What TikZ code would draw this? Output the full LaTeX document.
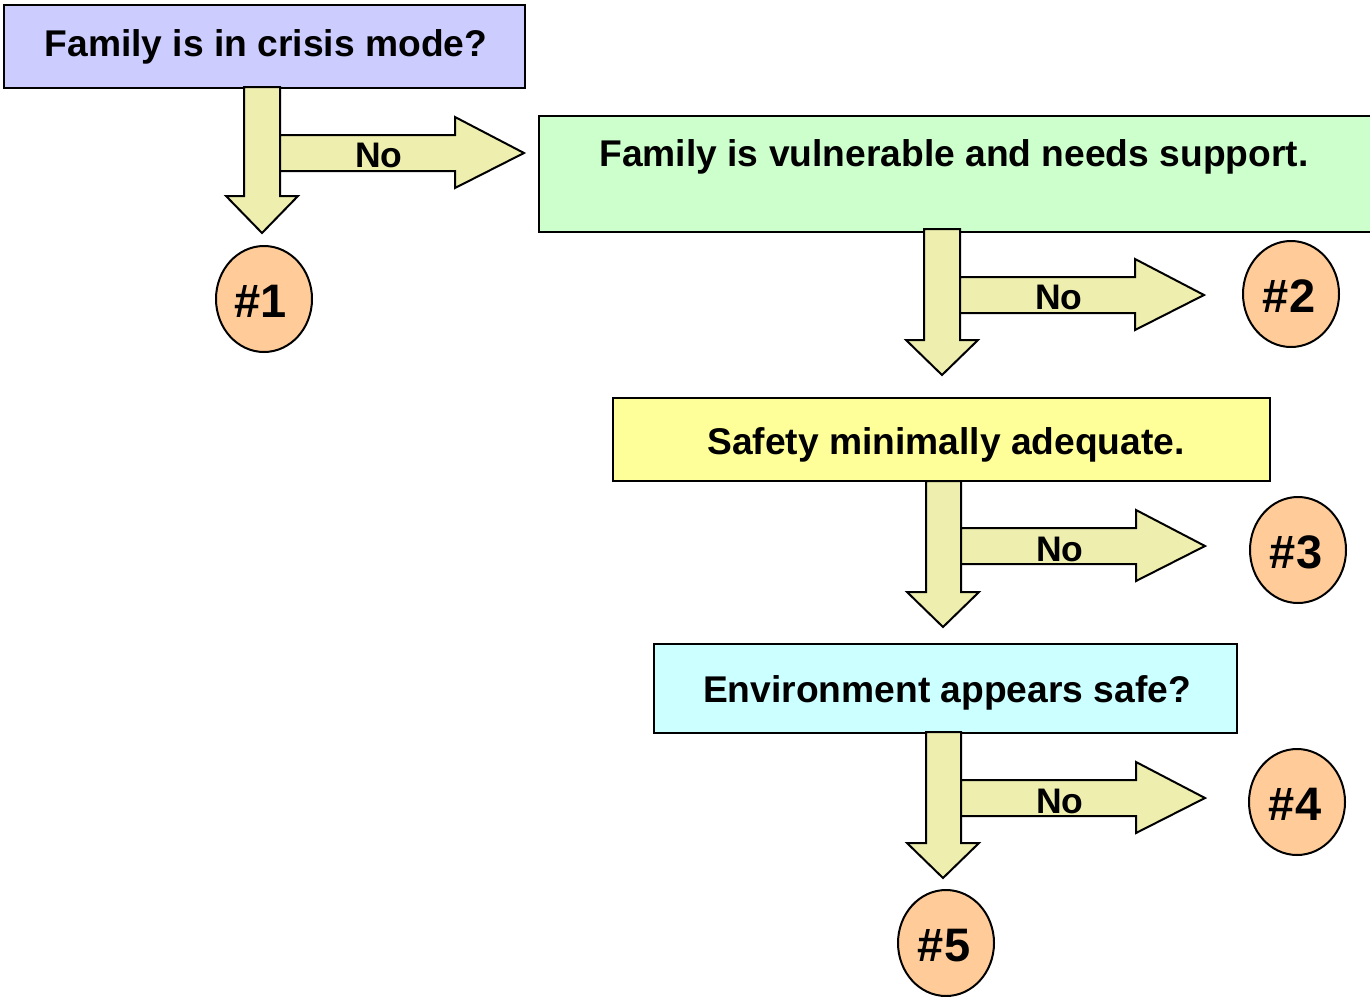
\documentclass[tikz,border=0pt]{standalone}
\usepackage{fontspec}
\setmainfont{Liberation Sans}
\begin{document}
\begin{tikzpicture}[x=1pt,y=-1pt,
  box/.style={draw=black,line width=2pt,inner sep=0pt,anchor=north west},
  boxtext/.style={anchor=base,inner sep=0pt,font=\fontsize{37.2}{40}\selectfont\bfseries},
  notext/.style={anchor=base,inner sep=0pt,font=\fontsize{35.5}{40}\selectfont\bfseries},
  numtext/.style={anchor=base,inner sep=0pt,font=\fontsize{47}{54}\selectfont\bfseries},
  numcirc/.style={line width=2pt,draw=black,fill=peach},
  blockarrow/.style={draw=black,line width=2pt,fill=arrowfill,line join=miter}]
\definecolor{lav}{HTML}{CCCCFF}
\definecolor{mint}{HTML}{CCFFCC}
\definecolor{lemon}{HTML}{FFFF99}
\definecolor{aqua}{HTML}{CCFFFF}
\definecolor{peach}{HTML}{FFCC99}
\definecolor{arrowfill}{HTML}{EEEEAF}
\useasboundingbox (0,0) rectangle (1370,996);
% boxes
\node[box,fill=lav,minimum width=521pt,minimum height=83pt] (b1) at (3,4) {};
\node[boxtext] (t1) at (266,56.5) {Family is in crisis mode?};
\node[box,fill=mint,minimum width=832pt,minimum height=116pt] (b2) at (538,115) {};
\node[boxtext] (t2) at (954,166) {Family is vulnerable and needs support.};
\node[box,fill=lemon,minimum width=657pt,minimum height=83pt] (b3) at (612,397) {};
\node[boxtext] (t3) at (946,454) {Safety minimally adequate.};
\node[box,fill=aqua,minimum width=583pt,minimum height=89pt] (b4) at (653,643) {};
\node[boxtext] (t4) at (947,702) {Environment appears safe?};
% arrows 1
\draw[blockarrow] (244,87) -- (244,196) -- (226,196) -- (262,233) -- (298,196) -- (280,196) -- (280,87) -- cycle;
\draw[blockarrow] (280,135) -- (455,135) -- (455,117) -- (524,153) -- (455,188) -- (455,171) -- (280,171) -- cycle;
\node[notext] (n1) at (379,167) {No};
% arrows 2
\draw[blockarrow] (924,229) -- (924,340) -- (906,340) -- (942,375) -- (978,340) -- (960,340) -- (960,229) -- cycle;
\draw[blockarrow] (960,277) -- (1135,277) -- (1135,259) -- (1204,295) -- (1135,330) -- (1135,313) -- (960,313) -- cycle;
\node[notext] (n2) at (1059,309) {No};
% arrows 3
\draw[blockarrow] (926,481) -- (926,592) -- (907,592) -- (943,627) -- (979,592) -- (961,592) -- (961,481) -- cycle;
\draw[blockarrow] (961,528) -- (1136,528) -- (1136,510) -- (1205,546) -- (1136,581) -- (1136,564) -- (961,564) -- cycle;
\node[notext] (n3) at (1060,561) {No};
% arrows 4
\draw[blockarrow] (926,732) -- (926,843) -- (907,843) -- (943,878) -- (979,843) -- (961,843) -- (961,732) -- cycle;
\draw[blockarrow] (961,780) -- (1136,780) -- (1136,762) -- (1205,798) -- (1136,833) -- (1136,816) -- (961,816) -- cycle;
\node[notext] (n4) at (1060,813) {No};
% circles
\draw[numcirc] (264,299) ellipse [x radius=48, y radius=53];
\node[numtext] (c1) at (261,317) {\#1};
\draw[numcirc] (1291,294) ellipse [x radius=48, y radius=53];
\node[numtext] (c2) at (1289,312) {\#2};
\draw[numcirc] (1298,550) ellipse [x radius=48, y radius=53];
\node[numtext] (c3) at (1296,568) {\#3};
\draw[numcirc] (1297,802) ellipse [x radius=48, y radius=53];
\node[numtext] (c4) at (1295,820) {\#4};
\draw[numcirc] (946,943) ellipse [x radius=48, y radius=53];
\node[numtext] (c5) at (944,961) {\#5};
\end{tikzpicture}
\end{document}
